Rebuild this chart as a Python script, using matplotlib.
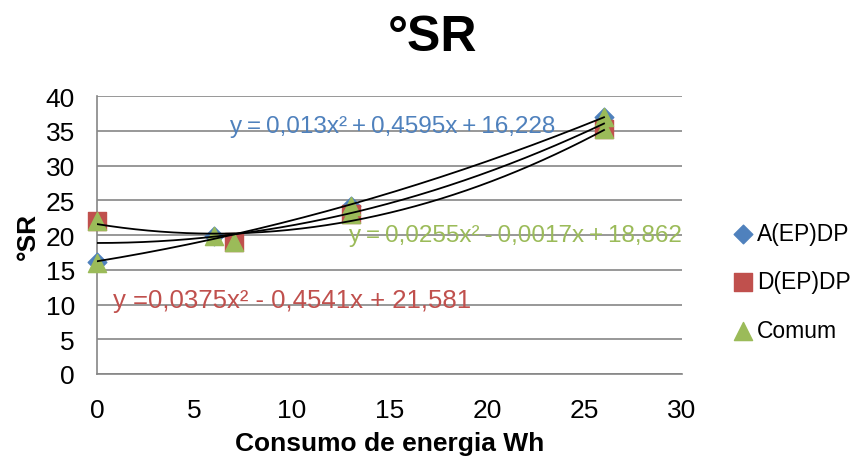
import matplotlib.pyplot as plt
import numpy as np

plt.rcParams['font.family'] = ['Liberation Sans', 'DejaVu Sans']

# data
x_a = [0, 6, 13, 26]
y_a = [16.1, 19.8, 24.2, 37.0]
x_d = [0, 7, 13, 26]
y_d = [22.0, 19.0, 23.0, 35.3]
x_c = [0, 0, 6, 7, 13, 13, 26, 26]
y_c = [16.0, 22.0, 19.8, 19.0, 24.2, 23.0, 37.0, 35.3]

# trendline coefficients (a, b, c) as printed on the chart
coef_a = [0.013, 0.4595, 16.228]
coef_d = [0.0375, -0.4541, 21.581]
coef_c = [0.0255, -0.0017, 18.862]

labels = ["A(EP)DP", "D(EP)DP", "Comum"]
eq_a = "y\u2009=\u20090,013x²\u2009+\u20090,4595x\u2009+\u200916,228"
eq_d = "y =0,0375x² - 0,4541x + 21,581"
eq_c = "y\u2009=\u20090,0255x²\u2009-\u20090,0017x\u2009+\u200918,862"

blue, red, green = "#4F81BD", "#C0504D", "#9BBB59"

fig = plt.figure(figsize=(8.54, 4.6), dpi=100)
ax = fig.add_axes([0.1136, 0.1848, 0.685, 0.604])

ax.scatter(x_a, y_a, marker="D", s=90, color=blue, label=labels[0], zorder=3, clip_on=False)
ax.scatter(x_d, y_d, marker="s", s=160, color=red, label=labels[1], zorder=4, clip_on=False)
ax.scatter(x_c, y_c, marker="^", s=170, color=green, label=labels[2], zorder=5, clip_on=False)

xx = np.linspace(0, 26, 200)
for cf in (coef_a, coef_d, coef_c):
    ax.plot(xx, np.polyval(cf, xx), color="black", lw=1.3, zorder=6)

ax.text(6.8, 35.7, eq_a, color=blue, fontsize=17.5, va="center", ha="left", zorder=7)
ax.text(12.9, 20.0, eq_c, color=green, fontsize=17.5, va="center", ha="left", zorder=7)
ax.text(0.8, 10.6, eq_d, color=red, fontsize=18.5, va="center", ha="left", zorder=7)

ax.set_xlim(0, 30)
ax.set_ylim(0, 40)
ax.set_xticks(range(0, 31, 5))
ax.set_yticks(range(0, 41, 5))
ax.tick_params(labelsize=19, length=0)
ax.tick_params(axis="x", pad=17)
ax.tick_params(axis="y", pad=16)
ax.yaxis.grid(True, color="#868686", lw=1.2)
ax.set_axisbelow(True)
for s in ("top", "right"):
    ax.spines[s].set_visible(False)
for s in ("left", "bottom"):
    ax.spines[s].set_color("#868686")
    ax.spines[s].set_linewidth(1.2)

ax.set_xlabel("Consumo de energia Wh", fontsize=19, fontweight="bold", labelpad=7)
ax.set_ylabel("°SR", fontsize=19, fontweight="bold", labelpad=4)
fig.text(0.507, 0.918, "°SR", fontsize=36, fontweight="bold", ha="center", va="center")

fig.legend(loc="center left", bbox_to_anchor=(0.846, 0.385), frameon=False,
           fontsize=16.5, handletextpad=0.1, labelspacing=1.1, handlelength=1.0,
           borderaxespad=0)

fig.savefig("out.png", dpi=100)
